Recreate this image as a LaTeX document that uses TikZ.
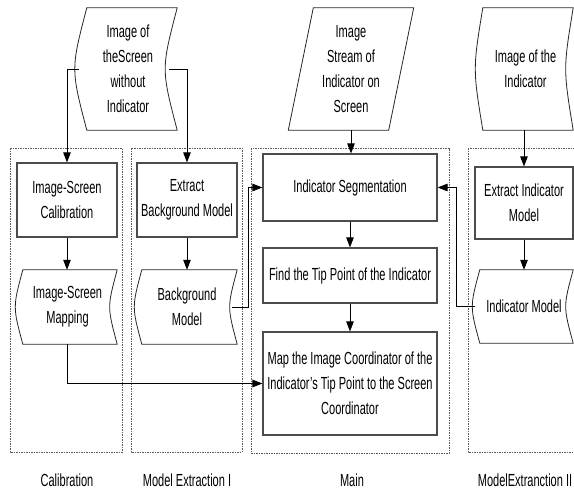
\documentclass[tikz,border=0pt]{standalone}
\usepackage{fontspec}
\setmainfont{Liberation Sans}[FakeStretch=0.63]
\usepackage{tikz}
\usetikzlibrary{positioning,calc}
\usetikzlibrary{arrows.meta}

\newcommand{\tapeshape}[2]{%
  \draw[tapeline] ([xshift=#2pt]#1.north west) -- (#1.north east)
    .. controls ([xshift=-2*#2pt]#1.east) .. (#1.south east)
    -- ([xshift=#2pt]#1.south west)
    .. controls ([xshift=-#2pt]#1.west) .. cycle;}

\begin{document}
\begin{tikzpicture}[x=1pt,y=-1pt,
        font=\fontsize{17.5}{25}\selectfont,
        proc/.style={draw=black!70, line width=1.15pt, align=center, inner sep=0pt},
        tape/.style={align=center, inner sep=0pt},
        tapeline/.style={draw=black!85, line width=0.8pt},
        frame/.style={draw=black!65, line width=0.6pt, dash pattern=on 1.5pt off 1pt},
        arr/.style={line width=0.85pt, -{Triangle[length=10pt,width=7.5pt]}}]
        \useasboundingbox (0,0) rectangle (574,490);
        % frames
        \draw[frame] (10,148) rectangle (122,452);
        \draw[frame] (131,148) rectangle (242,452);
        \draw[frame] (251,148) rectangle (449,453);
        \draw[frame] (468,148) rectangle (581,452);
        % inputs
        \node[tape, minimum width=98, minimum height=122] (screenimg) at (128,69) {Image of\\theScreen\\without\\Indicator};
        \tapeshape{screenimg}{8}
        \node[tape, minimum width=100, minimum height=122] (stream) at (351,69) {Image\\Stream of\\Indicator on\\Screen};
        \draw[tapeline] ([xshift=12.5pt]stream.north west) -- ([xshift=12.5pt]stream.north east)
            -- ([xshift=-12.5pt]stream.south east) -- ([xshift=-12.5pt]stream.south west) -- cycle;
        \node[tape, minimum width=95, minimum height=122] (indimg) at (525.5,69) {Image of the\\Indicator};
        \tapeshape{indimg}{5}
        % Calibration
        \node[proc, minimum width=100, minimum height=74] (calib) at (67,200) {Image-Screen\\Calibration};
        \node[tape, minimum width=99, minimum height=74] (mapping) at (67.5,307) {Image-Screen\\Mapping};
        \tapeshape{mapping}{5}
        % Model Extraction I
        \node[proc, minimum width=100, minimum height=74] (extbg) at (187,200) {Extract\\Background Model};
        \node[tape, minimum width=100, minimum height=74] (bgmodel) at (187,307) {Background\\Model};
        \tapeshape{bgmodel}{5}
        % Main
        \node[proc, minimum width=174, minimum height=67] (seg) at (350,187.5) {Indicator Segmentation};
        \node[proc, minimum width=174, minimum height=55] (tip) at (350,275.5) {Find the Tip Point of the Indicator};
        \node[proc, minimum width=174, minimum height=103] (map) at (350,383.5) {Map the Image Coordinator of the\\Indicator’s Tip Point to the Screen\\Coordinator};
        % Model Extraction II
        \node[proc, minimum width=98, minimum height=72] (extind) at (524,203) {Extract Indicator\\Model};
        \node[tape, minimum width=98, minimum height=73] (indmodel) at (524,306.5) {Indicator Model};
        \tapeshape{indmodel}{5}
        % connectors
        \draw[arr] (screenimg.west) -| (calib.north);
        \draw[arr] ([xshift=-8pt]screenimg.east) -| (extbg.north);
        \draw[arr] (stream.south) -- (stream.south |- seg.north);
        \draw[arr] (extind.north |- indimg.south) -- (extind.north);
        \draw[arr] (calib.south) -- (calib.south |- mapping.north);
        \draw[arr] (extbg) -- (bgmodel);
        \draw[arr] ([xshift=-5pt]bgmodel.east) -- ++(16,0) |- (seg.west);
        \draw[arr] (indmodel.west) -- ++(-18,0) |- (seg.east);
        \draw[arr] (seg) -- (tip);
        \draw[arr] (tip) -- (map);
        \draw[arr] (calib.south |- mapping.south) |- (map.west);
        \draw[arr] (extind) -- (indmodel);
        % labels
        \node (lcalib) at (67,480) {Calibration};
        \node (lmodela) at (187,480) {Model Extraction I};
        \node (lmain) at (352,480) {Main};
        \node (lmodelb) at (525,480) {ModelExtranction II};
\end{tikzpicture}
\end{document}
